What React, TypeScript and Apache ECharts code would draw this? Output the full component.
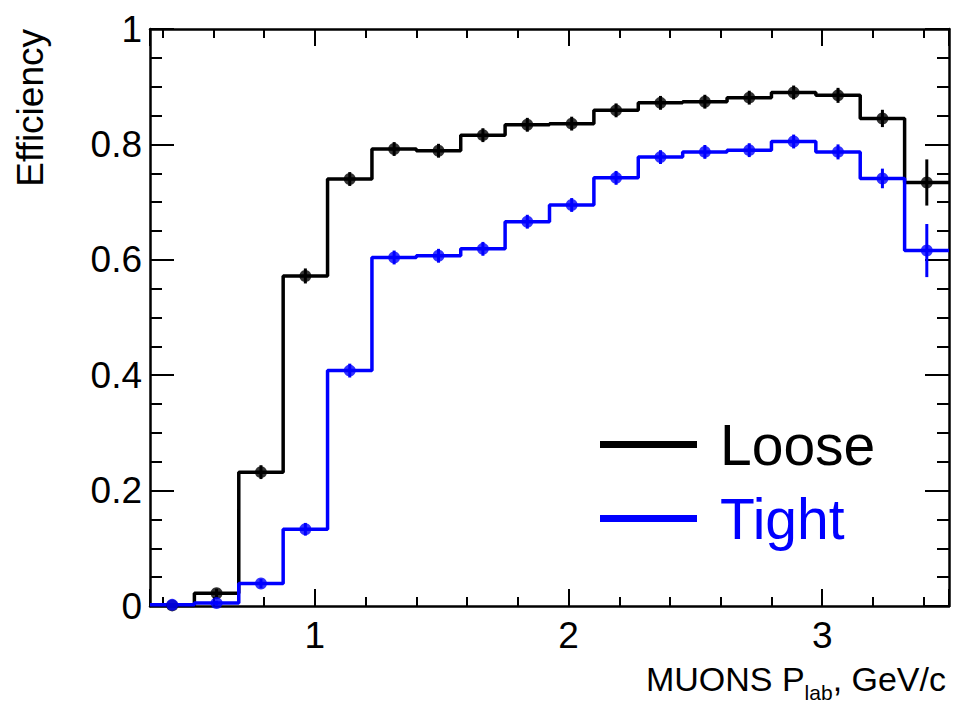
import React, { useEffect, useRef } from 'react';
import * as echarts from 'echarts';

// Bin edges of the histogram (GeV/c)
const binEdges = [0.35, 0.525, 0.7, 0.875, 1.05, 1.225, 1.4, 1.575, 1.75, 1.925, 2.1, 2.275, 2.45, 2.625, 2.8, 2.975, 3.15, 3.325, 3.5];

// Loose selection efficiency per bin and its error
const looseEff = [0.001, 0.022, 0.232, 0.572, 0.740, 0.792, 0.789, 0.816, 0.834, 0.836, 0.859, 0.872, 0.874, 0.881, 0.890, 0.885, 0.845, 0.734];
const looseErr = [0.002, 0.008, 0.012, 0.013, 0.012, 0.012, 0.012, 0.012, 0.012, 0.012, 0.012, 0.012, 0.012, 0.012, 0.012, 0.013, 0.015, 0.040];

// Tight selection efficiency per bin and its error
const tightEff = [0.002, 0.005, 0.039, 0.133, 0.408, 0.604, 0.607, 0.619, 0.666, 0.695, 0.742, 0.778, 0.787, 0.790, 0.805, 0.787, 0.741, 0.616];
const tightErr = [0.002, 0.004, 0.008, 0.011, 0.012, 0.012, 0.012, 0.012, 0.012, 0.012, 0.012, 0.012, 0.012, 0.012, 0.012, 0.013, 0.017, 0.046];

const seriesNames = ['Loose', 'Tight'];
const seriesColors = ['#000000', '#0000ff'];

const FONT = '"Liberation Sans", Arial, Helvetica, sans-serif';

function stepData(vals: number[]) {
  return binEdges.map((e, i) => [e, vals[Math.min(i, vals.length - 1)]]);
}

function pointData(vals: number[], errs: number[]) {
  return vals.map((v, i) => [(binEdges[i] + binEdges[i + 1]) / 2, v, errs[i]]);
}

function makeSeries(name: string, color: string, vals: number[], errs: number[]) {
  return [
    {
      name,
      type: 'line',
      step: 'end',
      data: stepData(vals),
      showSymbol: false,
      symbol: 'none',
      lineStyle: { color, width: 3.5 },
      itemStyle: { color },
      clip: true,
      z: 2,
    },
    {
      name: name + ' errors',
      type: 'custom',
      data: pointData(vals, errs),
      encode: { x: 0, y: 1 },
      clip: true,
      z: 3,
      renderItem: (params: any, api: any) => {
        const x = api.value(0);
        const y = api.value(1);
        const e = api.value(2);
        const top = api.coord([x, y + e]);
        const bot = api.coord([x, y - e]);
        return {
          type: 'line',
          shape: { x1: top[0], y1: top[1], x2: bot[0], y2: bot[1] },
          style: { stroke: color, lineWidth: 3 },
        };
      },
    },
    {
      name: name + ' points',
      type: 'scatter',
      data: pointData(vals, errs),
      encode: { x: 0, y: 1 },
      symbol: 'circle',
      symbolSize: 12,
      itemStyle: { color },
      z: 4,
    },
  ];
}

export default function App() {
  const ref = useRef<HTMLDivElement>(null);

  useEffect(() => {
    if (!ref.current) return;
    const chart = echarts.init(ref.current, undefined, { renderer: 'svg' });

    const axisLineStyle = { color: '#000', width: 2.5 };
    const tickStyle = { color: '#000', width: 2 };
    const xAxisBase = {
      type: 'value',
      min: binEdges[0],
      max: binEdges[binEdges.length - 1],
      splitNumber: 3,
      axisLine: { show: true, onZero: false, lineStyle: axisLineStyle },
      axisTick: { show: true, inside: true, length: 17, lineStyle: tickStyle },
      minorTick: { show: true, splitNumber: 5, length: 9, lineStyle: tickStyle },
      splitLine: { show: false },
      minorSplitLine: { show: false },
    };
    const yAxisBase = {
      type: 'value',
      min: 0,
      max: 1,
      interval: 0.2,
      axisLine: { show: true, onZero: false, lineStyle: axisLineStyle },
      axisTick: { show: true, inside: true, length: 24, lineStyle: tickStyle },
      minorTick: { show: true, splitNumber: 4, length: 12, lineStyle: tickStyle },
      splitLine: { show: false },
      minorSplitLine: { show: false },
    };

    chart.setOption({
      animation: false,
      backgroundColor: '#ffffff',
      grid: { left: 150, right: 6, top: 29, bottom: 98, containLabel: false },
      legend: {
        orient: 'vertical',
        left: 600,
        top: 416,
        padding: 0,
        itemGap: 17,
        itemWidth: 97,
        itemHeight: 7,
        icon: 'rect',
        textStyle: { fontSize: 57, fontFamily: FONT, padding: [0, 0, 0, 18] },
        data: [
          { name: seriesNames[0], textStyle: { color: seriesColors[0] } },
          { name: seriesNames[1], textStyle: { color: seriesColors[1] } },
        ],
      },
      xAxis: [
        {
          ...xAxisBase,
          position: 'bottom',
          axisLabel: {
            show: true,
            margin: 11,
            fontSize: 37,
            color: '#000',
            fontFamily: FONT,
            showMinLabel: false,
            showMaxLabel: false,
            formatter: (v: number) => (Number.isInteger(v) ? String(v) : ''),
          },
        },
        {
          ...xAxisBase,
          position: 'top',
          axisLabel: { show: false },
        },
      ],
      yAxis: [
        {
          ...yAxisBase,
          position: 'left',
          axisLabel: { show: true, margin: 8, fontSize: 37, color: '#000', fontFamily: FONT },
        },
        {
          ...yAxisBase,
          position: 'right',
          axisLabel: { show: false },
        },
      ],
      graphic: [
        {
          type: 'text',
          x: 30,
          y: 29,
          rotation: Math.PI / 2,
          style: {
            text: 'Efficiency',
            font: `37px ${FONT}`,
            fill: '#000',
            align: 'right',
            verticalAlign: 'middle',
          },
        },
        {
          type: 'text',
          x: 946,
          y: 662,
          style: {
            text: '{m|MUONS P}{s|lab}{m|, GeV/c}',
            fill: '#000',
            align: 'right',
            verticalAlign: 'top',
            rich: {
              m: { fontSize: 34, fontFamily: FONT, lineHeight: 36, verticalAlign: 'top', fill: '#000' },
              s: { fontSize: 21, fontFamily: FONT, lineHeight: 21, padding: [20, 0, 0, 0], verticalAlign: 'top', fill: '#000' },
            },
          },
        },
      ],
      series: [
        ...makeSeries(seriesNames[0], seriesColors[0], looseEff, looseErr),
        ...makeSeries(seriesNames[1], seriesColors[1], tightEff, tightErr),
      ],
    });

    return () => chart.dispose();
  }, []);

  return (
    <div
      ref={ref}
      style={{ position: 'absolute', left: 0, top: 0, width: 955, height: 704, background: '#fff' }}
    />
  );
}
